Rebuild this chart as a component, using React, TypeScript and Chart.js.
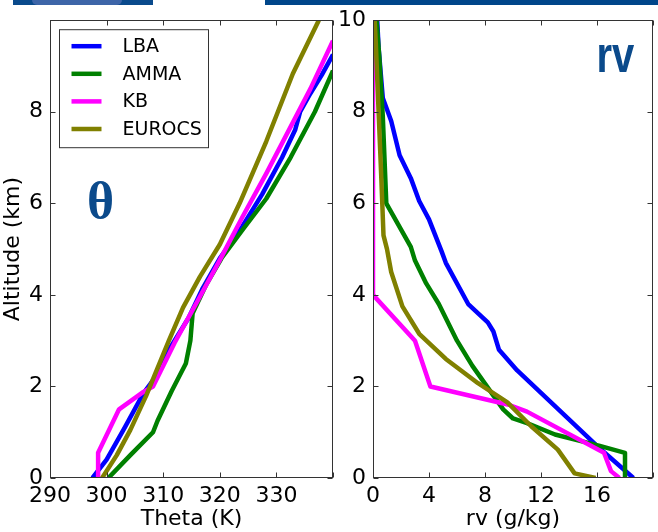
import React, { useEffect, useRef } from 'react';
import { Chart, registerables } from 'chart.js';

Chart.register(...registerables);

// ---------- data ----------
const SERIES_NAMES = ['LBA', 'AMMA', 'KB', 'EUROCS'];
const SERIES_COLORS = ['#0000ff', '#008000', '#ff00ff', '#808000'];

// Potential temperature profiles: [theta (K), altitude (km)]
const THETA_LBA: number[][] = [[297.5, 0], [300, 0.4], [303.2, 1.1], [306.5, 1.85], [308.3, 2.15], [311, 2.8], [314.5, 3.5], [317, 4.15], [320, 4.8], [324, 5.5], [327.5, 6.2], [331, 7.0], [333.3, 7.6], [334.2, 8.0], [336, 8.4], [338, 8.8], [340, 9.25]];
const THETA_AMMA: number[][] = [[300.3, 0], [304.2, 0.5], [308.2, 1.0], [309, 1.25], [311.5, 1.9], [314, 2.5], [314.8, 3.0], [315.2, 3.6], [317.5, 4.2], [320.3, 4.8], [324.2, 5.45], [328.2, 6.1], [332.5, 7.0], [336.8, 8.0], [340, 8.9]];
const THETA_KB: number[][] = [[298.5, 0], [298.5, 0.55], [302.2, 1.5], [306.5, 1.88], [308.2, 2.0], [312, 2.95], [316, 3.85], [320, 4.76], [324, 5.7], [328.2, 6.65], [332, 7.55], [336, 8.5], [340, 9.55]];
const THETA_EUROCS: number[][] = [[299.2, 0], [301.8, 0.5], [304.2, 1.05], [307, 1.8], [309, 2.4], [311, 3.0], [313.5, 3.72], [316.5, 4.4], [320, 5.1], [323.5, 6.0], [328.2, 7.35], [332.9, 8.83], [337.5, 10.0]];

// Water vapour mixing ratio profiles: [rv (g/kg), altitude (km)]
const RV_LBA: number[][] = [[18.6, 0], [16, 0.7], [10.3, 2.35], [9.0, 2.8], [8.6, 3.2], [8.2, 3.4], [6.8, 3.8], [5.2, 4.7], [4.9, 4.95], [4.0, 5.65], [3.3, 6.05], [2.7, 6.55], [1.9, 7.05], [1.3, 7.8], [0.7, 8.3], [0.4, 9.4], [0.3, 10]];
const RV_AMMA: number[][] = [[18.0, 0], [18.0, 0.55], [16.2, 0.7], [13, 0.95], [11, 1.2], [10, 1.3], [9.3, 1.5], [7.1, 2.45], [6.0, 3.0], [4.7, 3.8], [3.8, 4.25], [3.0, 4.75], [2.7, 5.05], [0.95, 6.0], [0.7, 7.9], [0.45, 9.2], [0.25, 10]];
const RV_KB: number[][] = [[17.6, 0], [17.0, 0.15], [16.5, 0.55], [11, 1.45], [9.7, 1.6], [4.1, 2.0], [3.0, 3.0], [0, 4.0], [0, 10]];
const RV_EUROCS: number[][] = [[15.9, 0], [14.4, 0.1], [13.2, 0.62], [11.3, 1.13], [9.6, 1.65], [7.5, 2.07], [5.2, 2.6], [3.3, 3.15], [2.1, 3.75], [1.3, 4.5], [1.0, 5.0], [0.75, 5.3], [0.6, 6.5], [0.4, 8.0], [0.2, 9.5], [0.12, 10]];

const ALT_RANGE = [0, 10];
const ALT_STEP = 2;
const THETA_RANGE = [290, 340];
const THETA_STEP = 10;
const RV_RANGE = [0, 20];
const RV_STEP = 4;

const THETA_TITLE = 'Theta (K)';
const RV_TITLE = 'rv (g/kg)';
const ALT_TITLE = 'Altitude (km)';

// ---------- styling ----------
const FONT = 'DejaVu Sans';
const FRAME = '#333333';
const LABEL_BLUE = '#0b4a8b';

const framePlugin = {
  id: 'frameTicks',
  afterDraw(chart: any) {
    const { ctx, chartArea: a, scales } = chart;
    const L = Math.round(a.left) + 0.5;
    const R = Math.round(a.right) - 0.5;
    const T = Math.round(a.top) + 0.5;
    const B = Math.round(a.bottom) - 0.5;
    ctx.save();
    ctx.strokeStyle = FRAME;
    ctx.lineWidth = 1;
    ctx.beginPath();
    const len = 5;
    scales.x.ticks.forEach((t: any) => {
      const px = Math.round(scales.x.getPixelForValue(t.value)) + 0.5;
      ctx.moveTo(px, B); ctx.lineTo(px, B - len);
      ctx.moveTo(px, T); ctx.lineTo(px, T + len);
    });
    scales.y.ticks.forEach((t: any) => {
      const py = Math.round(scales.y.getPixelForValue(t.value)) + 0.5;
      ctx.moveTo(L, py); ctx.lineTo(L + len, py);
      ctx.moveTo(R, py); ctx.lineTo(R - len, py);
    });
    ctx.stroke();
    ctx.strokeRect(L, T, R - L, B - T);
    ctx.restore();

    const extra = chart.options.plugins.frameTicks || {};
    if (extra.legend) {
      const x0 = a.left + 9.5;
      const y0 = a.top + 9.5;
      const w = 149;
      const h = 118;
      ctx.save();
      ctx.fillStyle = '#ffffff';
      ctx.fillRect(x0, y0, w, h);
      ctx.strokeStyle = FRAME;
      ctx.lineWidth = 1;
      ctx.strokeRect(x0, y0, w, h);
      ctx.font = `19px "${FONT}"`;
      ctx.textBaseline = 'middle';
      ctx.textAlign = 'left';
      chart.data.datasets.forEach((ds: any, i: number) => {
        const yy = y0 + 16.5 + i * 27.6;
        ctx.strokeStyle = ds.borderColor;
        ctx.lineWidth = 4.5;
        ctx.beginPath();
        ctx.moveTo(x0 + 12, yy);
        ctx.lineTo(x0 + 42, yy);
        ctx.stroke();
        ctx.fillStyle = '#000000';
        ctx.fillText(ds.label, x0 + 63, yy + 1);
      });
      ctx.restore();
    }
    if (extra.symbol) {
      const s = extra.symbol;
      ctx.save();
      ctx.fillStyle = LABEL_BLUE;
      ctx.font = s.font;
      ctx.textBaseline = 'alphabetic';
      ctx.textAlign = 'left';
      ctx.translate(a.left + s.dx, a.top + s.dy);
      ctx.scale(s.sx, 1);
      ctx.fillText(s.text, 0, 0);
      ctx.restore();
    }
  },
};

type PanelProps = {
  series: number[][][];
  xRange: number[];
  xStep: number;
  xTitle: string;
  yTitle?: string;
  hideX: number;
  hideY?: number;
  legend?: boolean;
  symbol?: any;
  width: number;
  left: number;
  axisWidth: number;
  padRight: number;
};

function Panel(p: PanelProps) {
  const ref = useRef<HTMLCanvasElement | null>(null);
  useEffect(() => {
    if (!ref.current) return;
    const datasets = p.series.map((pts, i) => ({
      label: SERIES_NAMES[i],
      data: pts.map(([x, y]) => ({ x, y })),
      borderColor: SERIES_COLORS[i],
      backgroundColor: SERIES_COLORS[i],
      borderWidth: 4.5,
      pointRadius: 0,
      tension: 0,
      fill: false,
      clip: 0,
      order: p.series.length - i,
      borderJoinStyle: 'round' as const,
      borderCapStyle: 'butt' as const,
    }));
    const chart = new Chart(ref.current, {
      type: 'line',
      data: { datasets },
      options: {
        animation: false,
        responsive: false,
        devicePixelRatio: 1,
        layout: { padding: { left: 0, top: 19, right: p.padRight, bottom: 0 } },
        plugins: {
          legend: { display: false },
          tooltip: { enabled: false },
          frameTicks: { legend: !!p.legend, symbol: p.symbol },
        } as any,
        scales: {
          x: {
            type: 'linear',
            min: p.xRange[0],
            max: p.xRange[1],
            grid: { display: false, drawTicks: false },
            border: { display: false },
            ticks: {
              stepSize: p.xStep,
              padding: 5,
              color: '#000',
              font: { family: FONT, size: 22 },
              maxRotation: 0,
              callback: (v: any) => (v === p.hideX ? '' : String(v)),
            },
            title: {
              display: true,
              text: p.xTitle,
              color: '#000',
              font: { family: FONT, size: 22 },
              padding: { top: 0, bottom: 0 },
            },
            afterFit: (s: any) => { s.height = 54; },
          },
          y: {
            type: 'linear',
            min: ALT_RANGE[0],
            max: ALT_RANGE[1],
            grid: { display: false, drawTicks: false },
            border: { display: false },
            ticks: {
              stepSize: ALT_STEP,
              padding: 7,
              color: '#000',
              font: { family: FONT, size: 22 },
              callback: (v: any) => (p.hideY !== undefined && v === p.hideY ? '' : String(v)),
            },
            title: {
              display: !!p.yTitle,
              text: p.yTitle || '',
              color: '#000',
              font: { family: FONT, size: 22 },
              padding: { top: 0, bottom: 0 },
            },
            afterFit: (s: any) => { s.width = p.axisWidth; },
          },
        },
      },
      plugins: [framePlugin],
    } as any);
    return () => chart.destroy();
  }, []);
  return (
    <canvas
      ref={ref}
      width={p.width}
      height={532}
      style={{ position: 'absolute', left: p.left, top: 0, width: p.width, height: 532 }}
    />
  );
}

export default function App() {
  return (
    <div style={{ position: 'absolute', left: 0, top: 0, width: 658, height: 532, background: '#fff', overflow: 'hidden' }}>
      <div style={{ position: 'absolute', left: 13, top: 0, width: 140, height: 5, background: '#0a4a8c' }} />
      <div style={{ position: 'absolute', left: 32, top: 0, width: 90, height: 5, background: '#3d65a8', borderRadius: '0 0 20px 20px' }} />
      <div style={{ position: 'absolute', left: 265, top: 0, width: 393, height: 5, background: '#00468a' }} />
      <Panel
        series={[THETA_LBA, THETA_AMMA, THETA_KB, THETA_EUROCS]}
        xRange={THETA_RANGE}
        xStep={THETA_STEP}
        xTitle={THETA_TITLE}
        yTitle={ALT_TITLE}
        hideX={340}
        hideY={10}
        legend
        symbol={{ text: 'θ', font: `bold 52px "Liberation Serif"`, dx: 37, dy: 198, sx: 1 }}
        width={340}
        left={0}
        axisWidth={50}
        padRight={7}
      />
      <Panel
        series={[RV_LBA, RV_AMMA, RV_KB, RV_EUROCS]}
        xRange={RV_RANGE}
        xStep={RV_STEP}
        xTitle={RV_TITLE}
        hideX={20}
        symbol={{ text: 'rv', font: `bold 50px "Liberation Sans"`, dx: 223.5, dy: 52, sx: 0.8 }}
        width={328}
        left={330}
        axisWidth={43}
        padRight={2}
      />
    </div>
  );
}
